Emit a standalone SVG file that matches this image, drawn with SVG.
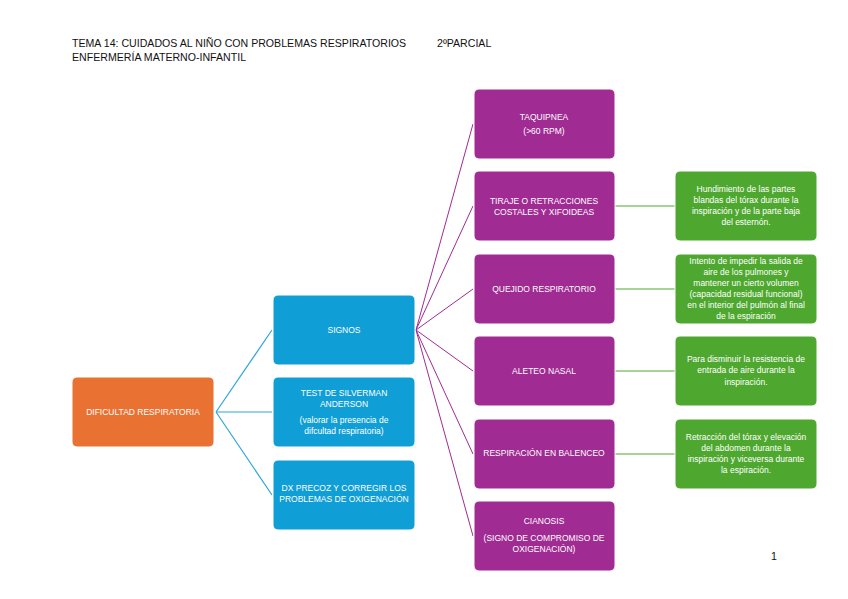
<svg xmlns="http://www.w3.org/2000/svg" width="848" height="599" viewBox="0 0 848 599">
<style>
.hdr{font-family:"Liberation Sans",Arial,sans-serif;font-size:10.6px;fill:#111}
.t{font-family:"Liberation Sans",Arial,sans-serif;font-size:8.5px;fill:#fff;text-anchor:middle}
.o{fill:#E97132;stroke:#fff;stroke-width:1}
.b{fill:#0F9ED5;stroke:#fff;stroke-width:1}
.p{fill:#A02B93;stroke:#fff;stroke-width:1}
.g{fill:#4EA72E;stroke:#fff;stroke-width:1}
.cb{stroke:#2FA6DC;stroke-width:1.2;fill:none}
.cp{stroke:#A02B93;stroke-width:1;fill:none}
.cg{stroke:#4EA72E;stroke-width:1;fill:none}
</style>
<rect width="848" height="599" fill="#fff"/>
<text class="hdr" x="72" y="47">TEMA 14: CUIDADOS AL NIÑO CON PROBLEMAS RESPIRATORIOS</text>
<text class="hdr" x="437" y="47">2ºPARCIAL</text>
<text class="hdr" x="72" y="61">ENFERMERÍA MATERNO-INFANTIL</text>
<text class="hdr" x="771" y="560">1</text>

<g id="connectors">
<path class="cb" d="M216 412 L272 330 M216 412 L272 412 M216 412 L272 495"/>
<path class="cp" d="M416 330 L473 124 M416 330 L473 206 M416 330 L473 289 M416 330 L473 371 M416 330 L473 454 M416 330 L473 536"/>
<path class="cg" d="M615 206 L675 206 M615 289 L675 289 M615 371 L675 371 M615 454 L675 454"/>
</g>

<g id="dificultad"><rect class="o" x="72" y="377" width="142" height="70" rx="5"/>
<text class="t" x="143" y="415">DIFICULTAD RESPIRATORIA</text></g>

<g id="signos"><rect class="b" x="273" y="295" width="142" height="70" rx="5"/>
<text class="t" x="344" y="333">SIGNOS</text></g>
<g id="test"><rect class="b" x="273" y="377" width="142" height="70" rx="5"/>
<text class="t" x="344" y="396">TEST DE SILVERMAN</text>
<text class="t" x="344" y="407">ANDERSON</text>
<text class="t" x="344" y="423">(valorar la presencia de</text>
<text class="t" x="344" y="434">difcultad respiratoria)</text></g>
<g id="dx"><rect class="b" x="273" y="460" width="142" height="70" rx="5"/>
<text class="t" x="344" y="491">DX PRECOZ Y CORREGIR LOS</text>
<text class="t" x="344" y="502">PROBLEMAS DE OXIGENACIÓN</text></g>

<g id="taquipnea"><rect class="p" x="474" y="89" width="141" height="70" rx="5"/>
<text class="t" x="544" y="120">TAQUIPNEA</text>
<text class="t" x="544" y="134">(&gt;60 RPM)</text></g>
<g id="tiraje"><rect class="p" x="474" y="171" width="141" height="70" rx="5"/>
<text class="t" x="544" y="204">TIRAJE O RETRACCIONES</text>
<text class="t" x="544" y="215">COSTALES Y XIFOIDEAS</text></g>
<g id="quejido"><rect class="p" x="474" y="254" width="141" height="70" rx="5"/>
<text class="t" x="544" y="292">QUEJIDO RESPIRATORIO</text></g>
<g id="aleteo"><rect class="p" x="474" y="336" width="141" height="70" rx="5"/>
<text class="t" x="544" y="374">ALETEO NASAL</text></g>
<g id="balenceo"><rect class="p" x="474" y="419" width="141" height="70" rx="5"/>
<text class="t" x="544" y="456">RESPIRACIÓN EN BALENCEO</text></g>
<g id="cianosis"><rect class="p" x="474" y="501" width="141" height="70" rx="5"/>
<text class="t" x="544" y="524">CIANOSIS</text>
<text class="t" x="544" y="541">(SIGNO DE COMPROMISO DE</text>
<text class="t" x="544" y="552">OXIGENACIÓN)</text></g>

<g id="g1"><rect class="g" x="675" y="171" width="142" height="70" rx="5"/>
<text class="t" x="746" y="192">Hundimiento de las partes</text>
<text class="t" x="746" y="203">blandas del tórax durante la</text>
<text class="t" x="746" y="214">inspiración y de la parte baja</text>
<text class="t" x="746" y="225">del esternón.</text></g>
<g id="g2"><rect class="g" x="675" y="254" width="142" height="70" rx="5"/>
<text class="t" x="746" y="264">Intento de impedir la salida de</text>
<text class="t" x="746" y="275">aire de los pulmones y</text>
<text class="t" x="746" y="286">mantener un cierto volumen</text>
<text class="t" x="746" y="297">(capacidad residual funcional)</text>
<text class="t" x="746" y="308">en el interior del pulmón al final</text>
<text class="t" x="746" y="319">de la espiración</text></g>
<g id="g3"><rect class="g" x="675" y="336" width="142" height="70" rx="5"/>
<text class="t" x="746" y="362">Para disminuir la resistencia de</text>
<text class="t" x="746" y="373">entrada de aire durante la</text>
<text class="t" x="746" y="385">inspiración.</text></g>
<g id="g4"><rect class="g" x="675" y="419" width="142" height="70" rx="5"/>
<text class="t" x="746" y="440">Retracción del tórax y elevación</text>
<text class="t" x="746" y="451">del abdomen durante la</text>
<text class="t" x="746" y="462">inspiración y viceversa durante</text>
<text class="t" x="746" y="473">la espiración.</text></g>
</svg>
